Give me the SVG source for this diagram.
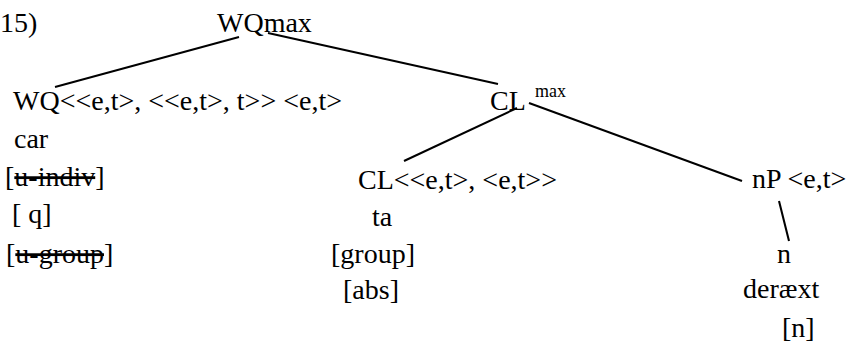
<svg xmlns="http://www.w3.org/2000/svg" width="848" height="349" viewBox="0 0 848 349" font-family="'Liberation Serif', 'Times New Roman', Times, 'DejaVu Serif', serif">
<style>
text{font-family:'Liberation Serif','Times New Roman',Times,'DejaVu Serif',serif;font-size:28px;fill:#000}
.sup{font-size:18px}
.del{text-decoration:line-through}
.edge{stroke:#000;stroke-width:2;fill:none}
</style>
<rect width="848" height="349" fill="#fff"/>
<g id="connectors">
<line class="edge" x1="239" y1="37" x2="55" y2="87"/>
<line class="edge" x1="268" y1="33" x2="498" y2="84"/>
<line class="edge" x1="517" y1="108" x2="404" y2="161"/>
<line class="edge" x1="529" y1="103" x2="742" y2="181"/>
<line class="edge" x1="779" y1="201" x2="789" y2="241"/>
</g>
<g id="label"><text x="0" y="32">15)</text></g>
<g id="wqmax"><text x="217" y="32">WQmax</text></g>
<g id="wq">
<text x="13" y="110">WQ&lt;&lt;e,t&gt;, &lt;&lt;e,t&gt;, t&gt;&gt; &lt;e,t&gt;</text>
<text x="14" y="148">car</text>
<text x="5" y="186">[<tspan class="del">u-indiv</tspan>]</text>
<text x="12" y="223">[ q]</text>
<text x="6" y="263">[<tspan class="del">u-group</tspan>]</text>
</g>
<g id="clmax">
<text x="490" y="110">CL</text>
<text class="sup" x="535" y="97">max</text>
</g>
<g id="cl">
<text x="358" y="189">CL&lt;&lt;e,t&gt;, &lt;e,t&gt;&gt;</text>
<text x="372" y="226">ta</text>
<text x="331" y="263">[group]</text>
<text x="343" y="299">[abs]</text>
</g>
<g id="np"><text x="752" y="188">nP &lt;e,t&gt;</text></g>
<g id="n">
<text x="777" y="263">n</text>
<text x="743" y="298">deræxt</text>
<text x="782" y="337">[n]</text>
</g>
</svg>
